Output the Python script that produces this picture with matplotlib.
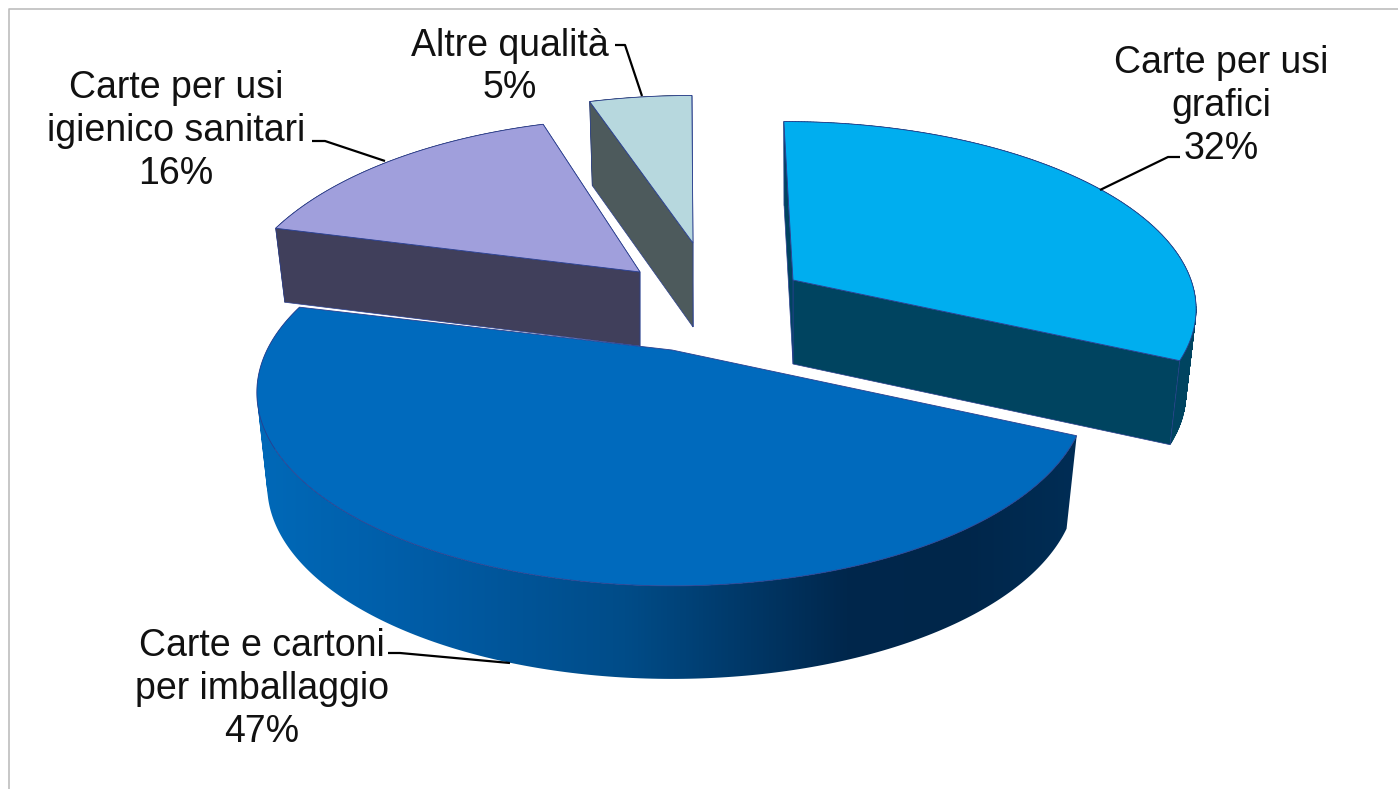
import numpy as np
import matplotlib
matplotlib.use("Agg")
import matplotlib.pyplot as plt
from matplotlib.colors import LinearSegmentedColormap
from matplotlib.patches import PathPatch
from matplotlib.path import Path

# ---- data ----
categories = ["Carte per usi\ngrafici", "Carte e cartoni\nper imballaggio",
              "Carte per usi\nigienico sanitari", "Altre qualità"]
shares = [32, 47, 16, 5]

# ---- styles ----
top_colors = ["#00AEEF", "#006ABD", "#A09FDC", "#B7D8DE"]
side_colors = ["#004460", None, "#403F5B", "#4D5A5C"]
edge_color = "#2A3F8F"
big_ramp = LinearSegmentedColormap.from_list(
    "ramp", [(0, "#0069B8"), (0.2, "#005CA6"), (0.45, "#004C88"), (0.72, "#00274C"), (0.86, "#00264A"), (1, "#002D55")])

# ---- layout (pixel space of the 3-D projection) ----
apex_x = [793, 672, 640, 693]
apex_y = [280, 350, 272, 243]
radius = [398, 405, 398, 400]
ry = [180, 184, 188, 180]
depth = [84, 93, 74, 84]
persp = [0.136, 0.22, 0.22, 0.22]
lean = [0.05, 0.0, -0.04, 0.0]
bottom_squeeze = 0.975

label_pos = [(1221, 106), (262, 689), (176, 131), (510, 67)]
leaders = [[(1180, 157), (1168, 157), (1100, 190)],
           [(388, 653), (400, 653), (510, 663)],
           [(312, 141), (325, 141), (385, 161)],
           [(615, 45), (625, 45), (642, 96)]]

plt.rcParams["font.family"] = ["Liberation Sans", "DejaVu Sans"]
fig = plt.figure(figsize=(13.98, 7.89), dpi=100)
ax = fig.add_axes([0, 0, 1, 1])
ax.axis("off")

# frame of the slide-chart
ax.plot([9, 9, 1398], [789, 9, 9], color="#BDBDBD", lw=1.2, zorder=0)


def ring(i, th, lower=False):
    w = 1 + persp[i] * np.cos(th)
    dx = radius[i] * np.sin(th) / w
    dy = -ry[i] * np.cos(th) / w
    dx = dx + lean[i] * dy
    if lower:
        return apex_x[i] + bottom_squeeze * dx, apex_y[i] + dy + depth[i]
    return apex_x[i] + dx, apex_y[i] + dy


def wall_path(xt, yt, xb, yb):
    """Compound path of the wall's quads, all wound the same way."""
    verts, codes = [], []
    for j in range(len(xt) - 1):
        q = np.array([[xt[j], yt[j]], [xt[j + 1], yt[j + 1]], [xb[j + 1], yb[j + 1]], [xb[j], yb[j]]])
        x, y = q[:, 0], q[:, 1]
        area = np.sum(x * np.roll(y, -1) - np.roll(x, -1) * y)
        if area < 0:
            q = q[::-1]
        verts += list(q) + [q[0]]
        codes += [Path.MOVETO, Path.LINETO, Path.LINETO, Path.LINETO, Path.CLOSEPOLY]
    return Path(np.array(verts), codes)


total = sum(shares)
bounds = np.radians(np.concatenate([[0], np.cumsum(shares)]) * 360 / total - 0.2)
draw_order = [2, 3, 0, 1]
z = 2
for i in draw_order:
    th = np.linspace(bounds[i], bounds[i + 1], 240)
    xt, yt = ring(i, th)
    xb, yb = ring(i, th, True)
    path = wall_path(xt, yt, xb, yb)
    if side_colors[i] is not None:
        # outer wall
        ax.add_patch(PathPatch(path, fc=side_colors[i], ec=side_colors[i], lw=0.4, zorder=z))
        # cut faces
        for b in (bounds[i + 1], bounds[i]):
            xa, ya = ring(i, b)
            xc, yc = ring(i, b, True)
            ax.fill([apex_x[i], xa, xc, apex_x[i]],
                    [apex_y[i], ya, yc, apex_y[i] + depth[i]],
                    fc=side_colors[i], ec=edge_color, lw=0.5, zorder=z + 0.1)
    else:
        # outer wall with a horizontal gradient, clipped to its outline
        shape = PathPatch(path, transform=ax.transData, fc="none", ec="none")
        ax.add_patch(shape)
        xs = np.r_[xt, xb]
        ys = np.r_[yt, yb]
        im = ax.imshow(np.linspace(0, 1, 512)[None, :], cmap=big_ramp, aspect="auto",
                       extent=(xs.min(), xs.max(), ys.max(), ys.min()),
                       zorder=z + 0.1)
        im.set_clip_path(shape)
    # top face
    ax.fill(np.r_[apex_x[i], xt], np.r_[apex_y[i], yt],
            fc=top_colors[i], ec=edge_color, lw=0.6, zorder=z + 0.2)
    z += 1

for i, cat in enumerate(categories):
    ax.text(label_pos[i][0], label_pos[i][1], f"{cat}\n{shares[i]}%",
            ha="center", va="center", fontsize=27, color="#111111",
            linespacing=1.245, zorder=20)
    lx, ly = zip(*leaders[i])
    ax.plot(lx, ly, color="black", lw=1.6, zorder=19, solid_capstyle="butt")

ax.set_xlim(0, 1398)
ax.set_ylim(789, 0)
fig.savefig("out.png", dpi=100, facecolor="white")
